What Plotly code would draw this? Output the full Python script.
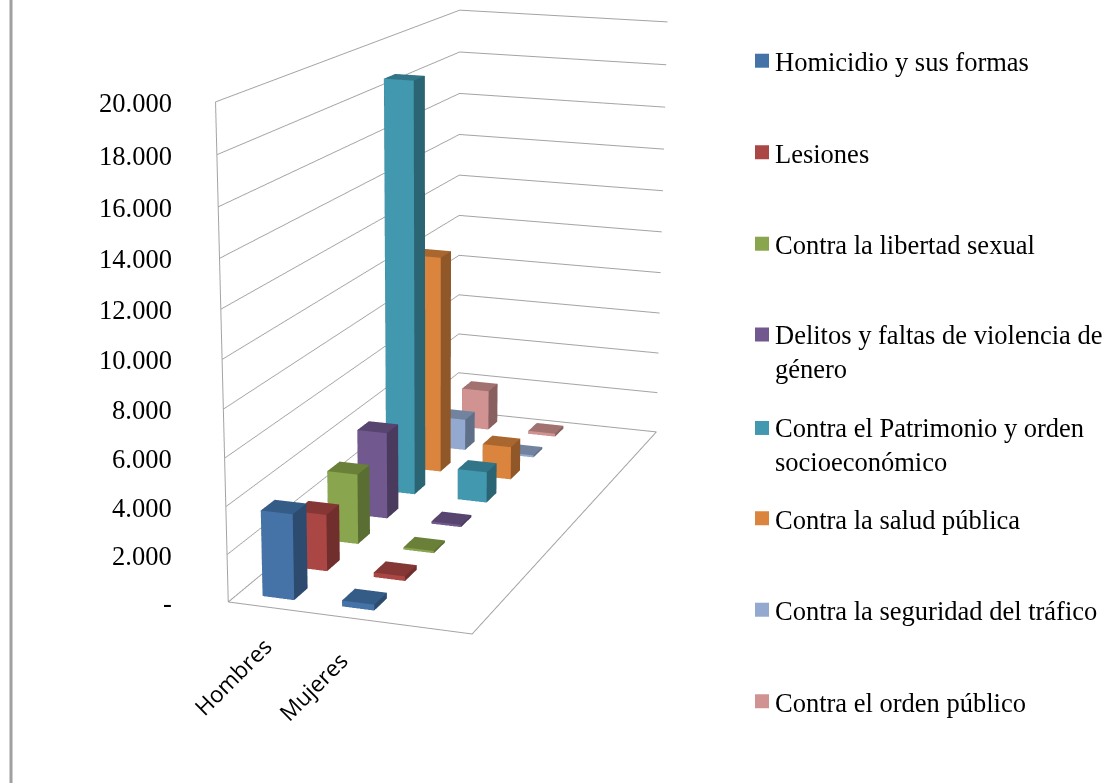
import math
import plotly.graph_objects as go

categories = ["Hombres", "Mujeres"]
series_names = ["Homicidio y sus formas", "Lesiones", "Contra la libertad sexual",
                "Delitos y faltas de violencia de<br>género",
                "Contra el Patrimonio y orden<br>socioeconómico", "Contra la salud pública",
                "Contra la seguridad del tráfico", "Contra el orden público"]
hombres = [3620, 2450, 3100, 3900, 18700, 10150, 1500, 1950]
mujeres = [250, 200, 100, 100, 1420, 1550, 100, 150]
front = ["#4573A7", "#AA4643", "#89A54E", "#71588F", "#4198AF", "#DB843D", "#93A9CF", "#D19392"]
side = ["#2C4B6E", "#702E2C", "#5A6D33", "#4A3A5E", "#2B6473", "#905728", "#5F6F88", "#896060"]
top = ["#355C87", "#843734", "#6A8039", "#574570", "#327588", "#A9662F", "#72839F", "#A27271"]
z_ticks = [0, 2000, 4000, 6000, 8000, 10000, 12000, 14000, 16000, 18000, 20000]
z_labels = ["-", "2.000", "4.000", "6.000", "8.000", "10.000", "12.000", "14.000", "16.000", "18.000", "20.000"]

FOCAL = 6.2611
fovy = 2 * math.atan(1 / FOCAL)
BAR = 0.4
n_cat = 3
n_series = len(series_names)
z_max = z_ticks[-1]
GRID = "#A3A3A3"
fig = go.Figure()


def cuboid(cx, cy, h):
    x0, x1, y0, y1 = cx - BAR / 2, cx + BAR / 2, cy - BAR / 2, cy + BAR / 2
    return [x0, x1, x1, x0, x0, x1, x1, x0], [y0, y0, y1, y1, y0, y0, y1, y1], [0, 0, 0, 0, h, h, h, h]


for s, name in enumerate(series_names):
    xs, ys, zs, I, J, K, fc = [], [], [], [], [], [], []
    for c, vals in enumerate([hombres, mujeres]):
        a, b, d = cuboid(c + 0.5, s + 0.5, vals[s])
        o = len(xs)
        xs += a
        ys += b
        zs += d
        faces = [((0, 1, 5), front[s]), ((0, 5, 4), front[s]),
                 ((1, 2, 6), side[s]), ((1, 6, 5), side[s]),
                 ((4, 5, 6), top[s]), ((4, 6, 7), top[s]),
                 ((0, 4, 7), side[s]), ((0, 7, 3), side[s]),
                 ((3, 7, 6), side[s]), ((3, 6, 2), side[s])]
        for (p, q, r), col in faces:
            I.append(o + p)
            J.append(o + q)
            K.append(o + r)
            fc.append(col)
    key = "legend" if s == 0 else f"legend{s + 1}"
    fig.add_trace(go.Mesh3d(x=xs, y=ys, z=zs, i=I, j=J, k=K, facecolor=fc, flatshading=True,
                            lighting=dict(ambient=1, diffuse=0, specular=0, roughness=1, fresnel=0),
                            hoverinfo="skip", name=name, showlegend=False))
    fig.add_trace(go.Scatter3d(x=[None], y=[None], z=[None], mode="markers", name=name, legend=key, showlegend=True,
                               marker=dict(symbol="square", size=14, color=front[s]), hoverinfo="skip"))

fig.add_trace(go.Scatter3d(x=[0, n_cat, n_cat, 0, 0, 0], y=[0, 0, n_series, n_series, 0, 0], z=[0, 0, 0, 0, 0, z_max],
                           mode="lines", line=dict(color=GRID, width=2), showlegend=False, hoverinfo="skip"))

ann = [dict(x=0, y=0, z=v, text=l, showarrow=False, xanchor="right", xshift=-42 - 12 * (1 - v / z_max), yshift=-1,
            font=dict(family="Liberation Serif", size=26.5, color="black")) for v, l in zip(z_ticks, z_labels)]
ann += [dict(x=c + 0.5, y=0, z=0, text=t, showarrow=False, textangle=-45, yshift=-69, xshift=-35,
             font=dict(family="Open Sans", size=22.5, color="black")) for c, t in enumerate(categories)]

ax = dict(showbackground=False, showticklabels=False, title=dict(text=""), showspikes=False,
          zeroline=False, ticks="", showline=False)
layout_legends = {}
for s in range(n_series):
    key = "legend" if s == 0 else f"legend{s + 1}"
    layout_legends[key] = dict(x=735 / 1120, xanchor="left", y=1 - (62 + 91.5 * s - 25) / 783, yanchor="top",
                               bgcolor="rgba(0,0,0,0)", borderwidth=0,
                               font=dict(family="Liberation Serif", size=26.5, color="black"),
                               itemclick=False, itemdoubleclick=False)
layout_legends["legend4"]["y"] += 2 / 783

fig.update_layout(width=1120, height=783, margin=dict(l=0, r=0, t=0, b=0), paper_bgcolor="white",
                  scene=dict(domain=dict(x=[0, 1], y=[0, 1]), dragmode=False,
                             xaxis=dict(ax, range=[0, n_cat], showgrid=False),
                             yaxis=dict(ax, range=[0, n_series], showgrid=False),
                             zaxis=dict(ax, range=[0, z_max], showgrid=True, gridcolor=GRID, gridwidth=2,
                                        tickvals=z_ticks),
                             aspectmode="manual", aspectratio=dict(x=1, y=2.6947, z=1.9541),
                             camera=dict(eye=dict(x=3.2876, y=-9.4767, z=2.5217),
                                         center=dict(x=0.3970, y=0.0879, z=-0.4353),
                                         up=dict(x=-0.0153, y=0, z=1), projection=dict(type="perspective")),
                             annotations=ann),
                  shapes=[dict(type="line", xref="paper", yref="paper", x0=11 / 1120, x1=11 / 1120, y0=0, y1=1,
                               line=dict(color="#A0A0A0", width=3))],
                  **layout_legends)
post = """
document.body.style.margin='0';
var gd=document.getElementById('{plot_id}');
var tick=function(){
  try{
    var s=gd._fullLayout.scene._scene;
    if(s&&s.glplot){s.glplot.fovy=%f;s.glplot.redraw();}
    document.querySelectorAll('.legendsymbols').forEach(function(e,i){
      e.setAttribute('transform','translate(7,'+((i==3||i==4)?-16:0)+')');});
  }catch(e){}
};
var n=0;var h=setInterval(function(){tick();if(++n>40)clearInterval(h);},50);
""" % fovy
fig.write_html("out.html", post_script=post, config=dict(displayModeBar=False))
